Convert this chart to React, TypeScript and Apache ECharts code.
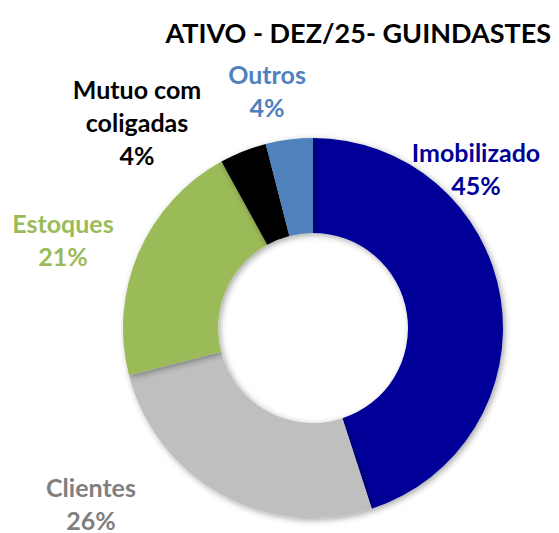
import React, { useEffect, useRef } from "react";
import * as echarts from "echarts";

const categories = ["Imobilizado", "Clientes", "Estoques", "Mutuo com\ncoligadas", "Outros"];
const values = [45, 26, 21, 4, 4];
const sliceColors = ["#000099", "#BFBFBF", "#9BBB59", "#000000", "#4F81BD"];
const labelColors = ["#000099", "#7F7F7F", "#9BBB59", "#000000", "#4F81BD"];
const labelPositions = [
  [476, 168],
  [91, 503],
  [63, 239],
  [137, 122],
  [267, 90],
];

export default function App() {
  const ref = useRef<HTMLDivElement>(null);
  useEffect(() => {
    if (!ref.current) return;
    const chart = echarts.init(ref.current, null, { renderer: "svg" });
    chart.setOption({
      animation: false,
      title: {
        text: "ATIVO - DEZ/25- GUINDASTES",
        right: 3,
        top: 14,
        textStyle: { fontFamily: "Lato", fontWeight: "bold", fontSize: 27, color: "#000" },
      },
      series: [
        {
          type: "pie",
          center: [313, 328],
          radius: [95, 190],
          startAngle: 90,
          clockwise: true,
          avoidLabelOverlap: false,
          itemStyle: {
            shadowBlur: 6,
            shadowColor: "rgba(0,0,0,0.35)",
            shadowOffsetX: 2,
            shadowOffsetY: 2,
          },
          label: {
            show: true,
            position: "outside",
            fontFamily: "Lato",
            fontWeight: "bold",
            fontSize: 25,
            lineHeight: 33,
            align: "center",
            formatter: (p: any) => `${p.name}\n${p.value}%`,
          },
          labelLine: { show: false },
          labelLayout: (p: any) => ({
            x: labelPositions[p.dataIndex][0],
            y: labelPositions[p.dataIndex][1],
            align: "center",
            verticalAlign: "middle",
          }),
          data: categories.map((c, i) => ({
            name: c,
            value: values[i],
            itemStyle: { color: sliceColors[i] },
            label: { color: labelColors[i] },
          })),
        },
      ],
    });
    return () => chart.dispose();
  }, []);
  return <div ref={ref} style={{ width: 559, height: 533, position: "absolute", left: 0, top: 0 }} />;
}
